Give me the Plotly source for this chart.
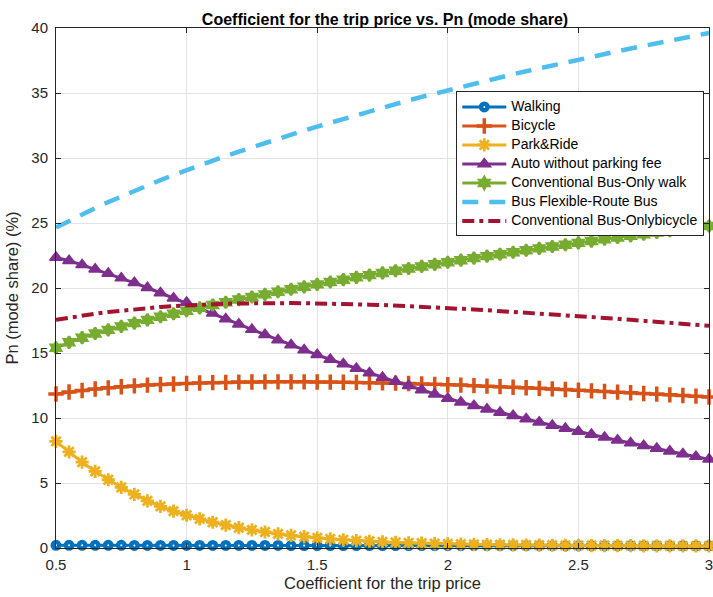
import plotly.graph_objects as go

# Coefficient for the trip price (x axis)
coef = [0.50, 0.55, 0.60, 0.65, 0.70, 0.75, 0.80, 0.85, 0.90, 0.95,
        1.00, 1.05, 1.10, 1.15, 1.20, 1.25, 1.30, 1.35, 1.40, 1.45,
        1.50, 1.55, 1.60, 1.65, 1.70, 1.75, 1.80, 1.85, 1.90, 1.95,
        2.00, 2.05, 2.10, 2.15, 2.20, 2.25, 2.30, 2.35, 2.40, 2.45,
        2.50, 2.55, 2.60, 2.65, 2.70, 2.75, 2.80, 2.85, 2.90, 2.95,
        3.00]

# Mode shares Pn (%)
walking = [0.21, 0.21, 0.21, 0.21, 0.21, 0.21, 0.20, 0.20, 0.20, 0.20,
           0.20, 0.20, 0.20, 0.20, 0.20, 0.20, 0.20, 0.20, 0.19, 0.19,
           0.19, 0.19, 0.19, 0.19, 0.19, 0.19, 0.19, 0.19, 0.19, 0.19,
           0.18, 0.18, 0.18, 0.18, 0.18, 0.18, 0.18, 0.18, 0.18, 0.18,
           0.18, 0.18, 0.18, 0.18, 0.18, 0.18, 0.18, 0.17, 0.17, 0.17,
           0.17]

bicycle = [11.85, 12.00, 12.12, 12.23, 12.32, 12.40, 12.47, 12.53, 12.58, 12.62,
           12.66, 12.69, 12.72, 12.74, 12.76, 12.77, 12.78, 12.78, 12.78, 12.78,
           12.77, 12.76, 12.75, 12.74, 12.72, 12.70, 12.68, 12.65, 12.62, 12.59,
           12.56, 12.53, 12.49, 12.45, 12.41, 12.37, 12.33, 12.28, 12.24, 12.19,
           12.14, 12.09, 12.04, 11.99, 11.94, 11.89, 11.84, 11.78, 11.73, 11.68,
           11.62]

park_ride = [8.20, 7.40, 6.60, 5.90, 5.25, 4.66, 4.12, 3.63, 3.20, 2.84,
             2.52, 2.24, 1.98, 1.76, 1.56, 1.39, 1.23, 1.09, 0.97, 0.87,
             0.78, 0.70, 0.63, 0.57, 0.52, 0.47, 0.43, 0.40, 0.37, 0.34,
             0.32, 0.30, 0.28, 0.26, 0.25, 0.24, 0.23, 0.22, 0.21, 0.20,
             0.20, 0.19, 0.19, 0.18, 0.18, 0.17, 0.17, 0.17, 0.16, 0.16,
             0.16]

auto_no_fee = [22.35, 22.10, 21.78, 21.45, 21.12, 20.76, 20.40, 20.02, 19.62, 19.22,
               18.88, 18.45, 18.05, 17.62, 17.22, 16.80, 16.40, 16.00, 15.62, 15.24,
               14.86, 14.50, 14.15, 13.80, 13.46, 13.12, 12.80, 12.48, 12.16, 11.83,
               11.50, 11.22, 10.95, 10.68, 10.42, 10.17, 9.92, 9.67, 9.43, 9.19,
               8.96, 8.73, 8.51, 8.29, 8.07, 7.86, 7.65, 7.44, 7.23, 7.03,
               6.82]

bus_only_walk = [15.40, 15.82, 16.18, 16.50, 16.78, 17.05, 17.30, 17.55, 17.79, 18.02,
                 18.25, 18.47, 18.69, 18.90, 19.11, 19.31, 19.51, 19.71, 19.90, 20.09,
                 20.28, 20.46, 20.64, 20.82, 20.99, 21.16, 21.33, 21.50, 21.66, 21.82,
                 21.98, 22.14, 22.30, 22.45, 22.60, 22.75, 22.90, 23.05, 23.19, 23.33,
                 23.47, 23.61, 23.75, 23.88, 24.01, 24.14, 24.27, 24.40, 24.53, 24.65,
                 24.77]

flex_route = [24.65, 25.17, 25.67, 26.15, 26.61, 27.05, 27.48, 27.90, 28.30, 28.69,
              29.07, 29.44, 29.80, 30.15, 30.49, 30.83, 31.16, 31.48, 31.80, 32.11,
              32.42, 32.72, 33.02, 33.31, 33.60, 33.88, 34.16, 34.43, 34.70, 34.96,
              35.22, 35.47, 35.72, 35.96, 36.20, 36.44, 36.67, 36.90, 37.13, 37.35,
              37.57, 37.79, 38.00, 38.21, 38.42, 38.63, 38.83, 39.03, 39.23, 39.43,
              39.62]

bus_only_bicycle = [17.55, 17.72, 17.88, 18.02, 18.15, 18.26, 18.37, 18.46, 18.54, 18.61,
                    18.67, 18.72, 18.76, 18.79, 18.81, 18.83, 18.84, 18.84, 18.84, 18.83,
                    18.82, 18.80, 18.78, 18.75, 18.72, 18.69, 18.65, 18.60, 18.55, 18.50,
                    18.45, 18.40, 18.35, 18.29, 18.23, 18.17, 18.11, 18.04, 17.98, 17.91,
                    17.84, 17.77, 17.70, 17.63, 17.55, 17.48, 17.40, 17.33, 17.25, 17.17,
                    17.09]

x_ticks = [0.5, 1, 1.5, 2, 2.5, 3]
x_labels = ["0.5", "1", "1.5", "2", "2.5", "3"]
y_ticks = [0, 5, 10, 15, 20, 25, 30, 35, 40]

FONT = "Liberation Sans, Arial, Helvetica, sans-serif"
INK = "#262626"


def legend_label(text):
    # legend rows stay compact while the label itself is drawn at 14 px
    return f"<span style='font-size:14px'>{text}</span>"


fig = go.Figure()


def marker_line(name, y, color, symbol, size, lw, fill=None):
    fig.add_trace(go.Scatter(
        x=coef, y=y, name=legend_label(name), mode="lines+markers",
        line=dict(color=color, width=3),
        marker=dict(symbol=symbol, size=size, color=fill or color,
                    line=dict(color=color, width=lw)),
        cliponaxis=False,
    ))


marker_line("Walking", walking, "#0072BD", "circle", 6.5, 4.5, fill="white")
marker_line("Bicycle", bicycle, "#D95319", "cross-thin-open", 11, 3.5)
marker_line("Park&amp;Ride", park_ride, "#EDB120", "asterisk-open", 11, 2.8)
marker_line("Auto without parking fee", auto_no_fee, "#7E2F8E", "triangle-up", 11, 1.5)
marker_line("Conventional Bus-Only walk", bus_only_walk, "#77AC30", "hexagram", 9, 2.5)

fig.add_trace(go.Scatter(
    x=coef, y=flex_route, name=legend_label("Bus Flexible-Route Bus"), mode="lines",
    line=dict(color="#4DBEEE", width=4.5, dash="16px,11px"),
))
fig.add_trace(go.Scatter(
    x=coef, y=bus_only_bicycle, name=legend_label("Conventional Bus-Onlybicycle"),
    mode="lines",
    line=dict(color="#A2142F", width=4, dash="12px,5px,4px,5px"),
))

axis_common = dict(
    showline=True, linecolor=INK, linewidth=1, mirror="ticks",
    ticks="inside", ticklen=5, tickcolor=INK,
    showgrid=True, gridcolor="#E3E3E3", gridwidth=1,
    zeroline=False,
    tickfont=dict(family=FONT, size=15, color=INK),
    ticklabeloverflow="allow",
)

fig.update_xaxes(
    range=[0.5, 3], tickvals=x_ticks, ticktext=x_labels,
    ticklabelstandoff=3,
    title=dict(text="Coefficient for the trip price",
               font=dict(family=FONT, size=16.5, color=INK), standoff=5),
    **axis_common,
)
fig.update_yaxes(
    range=[0, 40], tickvals=y_ticks,
    ticklabelstandoff=4,
    title=dict(text="Pn (mode share) (%)",
               font=dict(family=FONT, size=16.5, color=INK), standoff=8),
    **axis_common,
)

fig.update_layout(
    width=713, height=597,
    margin=dict(l=56, r=0, t=28, b=49),
    plot_bgcolor="white", paper_bgcolor="white",
    font=dict(family=FONT, color=INK),
    title=dict(text="<b>Coefficient for the trip price vs. Pn (mode share)</b>",
               font=dict(family=FONT, size=16, color="black"),
               x=0.54, xanchor="center", y=0.968, yanchor="middle"),
    legend=dict(
        x=0.613, y=0.878, xanchor="left", yanchor="top",
        bgcolor="white", bordercolor=INK, borderwidth=1,
        font=dict(family=FONT, size=11, color="black"),
        itemwidth=44, tracegroupgap=0,
    ),
    showlegend=True,
)

fig.write_html("out.html")
